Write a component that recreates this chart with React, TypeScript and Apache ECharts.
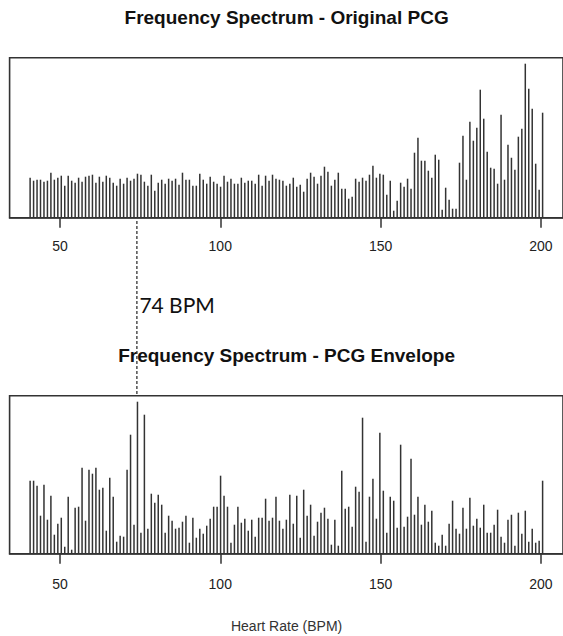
import React, { useEffect, useRef } from "react";
import * as echarts from "echarts";

// Frequency bins (BPM) of the spectrum
const BIN_START = 40.7;
const BIN_STEP = 1.08;

// Magnitude (a.u.) – Original PCG spectrum
const ORIGINAL_PCG = [
  40, 37, 38, 38, 36, 37, 45, 38, 40, 42, 32, 42, 37, 35, 40, 36, 41, 42, 43, 35,
  41, 36, 42, 40, 35, 32, 39, 34, 40, 37, 39, 44, 43, 36, 32, 43, 27, 35, 38, 34,
  39, 37, 39, 33, 45, 38, 38, 32, 32, 44, 38,
  34, 41, 36, 34, 31, 42, 36, 39, 34, 34, 40, 35, 37, 37, 34, 43, 32, 42, 37, 43,
  39, 38, 37, 32, 34, 40, 31, 33, 26, 39, 45, 41, 34, 42, 51, 46, 32, 38, 45, 29,
  29, 19, 21, 39, 36, 40, 37, 43,
  52, 40, 44, 43, 23, 37, 7, 17, 35, 31, 39, 29, 65, 80, 57, 57, 47, 40, 63, 58,
  8, 30, 18, 9, 9, 55, 82, 38, 96, 77, 90, 128, 99, 66, 50, 49, 34, 103, 38, 73,
  60, 48, 81, 89, 154, 129, 109, 54, 28, 105,
];

// Magnitude (a.u.) – PCG envelope spectrum
const PCG_ENVELOPE = [
  73, 73, 68, 38, 69, 34, 58, 19, 30, 36, 7, 57, 4, 46, 47, 86, 33, 84, 80, 86,
  64, 66, 23, 76, 57, 12, 18, 17, 84, 119, 29, 152, 21, 139, 25, 60, 51, 59, 49, 21,
  38, 33, 25, 26, 32, 38, 11, 36, 16, 25, 20,
  28, 35, 47, 47, 78, 58, 47, 11, 29, 47, 31, 35, 23, 34, 17, 36, 36, 55, 33, 36,
  57, 33, 25, 34, 59, 30, 58, 16, 64, 38, 49, 18, 32, 41, 46, 35, 9, 34, 8, 83,
  45, 47, 27, 67, 62, 136, 12, 57, 75, 35,
  121, 63, 21, 57, 53, 26, 109, 27, 37, 95, 39, 57, 29, 49, 32, 43, 11, 8, 19, 8,
  30, 53, 25, 20, 46, 25, 56, 28, 35, 26, 49, 21, 21, 29, 44, 17, 11, 34, 39, 8,
  41, 20, 43, 12, 25, 11, 13, 73,
];

const X_TICKS = [50, 100, 150, 200];
const PEAK_BPM = 74;
const PEAK_LABEL = "74 BPM";
const TITLE_TOP = "Frequency Spectrum - Original PCG";
const TITLE_BOTTOM = "Frequency Spectrum - PCG Envelope";
const X_NAME = "Heart Rate (BPM)";

const FONT = "'Liberation Sans', Arial, sans-serif";
const INK = "#333";

export default function App() {
  const ref = useRef<HTMLDivElement>(null);

  useEffect(() => {
    if (!ref.current) return;
    const chart = echarts.init(ref.current, undefined, { renderer: "svg" });

    const bins = ORIGINAL_PCG.map((_, i) => +(BIN_START + i * BIN_STEP).toFixed(2));

    const G0 = { left: 9.6, top: 57.7, width: 554, height: 160 };
    const G1 = { left: 9.6, top: 395.7, width: 554, height: 158 };

    const xAxisBase = (gridIndex: number, margin: number) => ({
      type: "value",
      gridIndex,
      min: 34.3,
      max: 206.9,
      axisLine: { show: true, lineStyle: { color: INK, width: 1.6 } },
      axisTick: {
        show: true,
        customValues: X_TICKS,
        length: 10,
        lineStyle: { color: INK, width: 1.5 },
      },
      axisLabel: {
        customValues: X_TICKS,
        fontSize: 14,
        color: "#222",
        margin,
        fontFamily: FONT,
      },
      splitLine: { show: false },
    });

    chart.setOption({
      animation: false,
      textStyle: { fontFamily: FONT },
      grid: [
        { ...G0, show: true, borderColor: INK, borderWidth: 1.6, containLabel: false },
        { ...G1, show: true, borderColor: INK, borderWidth: 1.6, containLabel: false },
      ],
      xAxis: [xAxisBase(0, 21), xAxisBase(1, 23)],
      yAxis: [
        { type: "value", gridIndex: 0, min: 0, max: 160, show: false },
        { type: "value", gridIndex: 1, min: 0, max: 158, show: false },
      ],
      series: [
        {
          type: "bar",
          name: TITLE_TOP,
          xAxisIndex: 0,
          yAxisIndex: 0,
          barWidth: 1.5,
          silent: true,
          itemStyle: { color: INK },
          data: bins.map((x, i) => [x, ORIGINAL_PCG[i]]),
        },
        {
          type: "bar",
          name: TITLE_BOTTOM,
          xAxisIndex: 1,
          yAxisIndex: 1,
          barWidth: 1.5,
          silent: true,
          itemStyle: { color: INK },
          data: bins.map((x, i) => [x, PCG_ENVELOPE[i]]),
        },
      ],
    });

    const px = chart.convertToPixel({ xAxisIndex: 0 }, PEAK_BPM) as number;
    const cx = G0.left + G0.width / 2;

    chart.setOption({
      graphic: [
        {
          type: "text",
          style: {
            text: TITLE_TOP,
            x: cx,
            y: 17,
            textAlign: "center",
            textVerticalAlign: "middle",
            font: `bold 19px ${FONT}`,
            fill: "#111",
          },
        },
        {
          type: "text",
          style: {
            text: TITLE_BOTTOM,
            x: cx,
            y: 355,
            textAlign: "center",
            textVerticalAlign: "middle",
            font: `bold 19px ${FONT}`,
            fill: "#111",
          },
        },
        {
          type: "line",
          shape: { x1: px, y1: 221, x2: px, y2: G1.top },
          style: { stroke: INK, lineWidth: 1.3, lineDash: [3, 2] },
        },
        {
          type: "text",
          style: {
            text: PEAK_LABEL,
            x: px + 2.5,
            y: 304,
            textAlign: "left",
            textVerticalAlign: "middle",
            font: `21px Lato, 'Open Sans', sans-serif`,
            fill: "#111",
          },
        },
        {
          type: "text",
          style: {
            text: X_NAME,
            x: cx,
            y: 626,
            textAlign: "center",
            textVerticalAlign: "middle",
            font: `14px ${FONT}`,
            fill: "#333",
          },
        },
      ],
    });

    return () => chart.dispose();
  }, []);

  return (
    <div
      ref={ref}
      style={{ position: "fixed", left: 0, top: 0, width: 563, height: 636, background: "#fff" }}
    />
  );
}
